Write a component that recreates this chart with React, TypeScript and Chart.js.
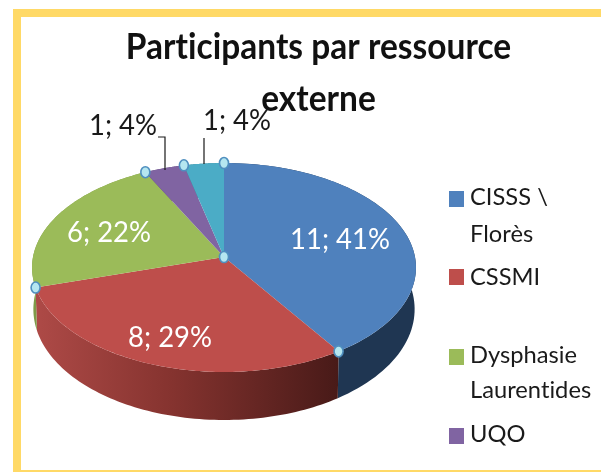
import React, { useEffect, useRef } from "react";
import { Chart, registerables } from "chart.js";

Chart.register(...registerables);

const categories = ["CISSS \\ Florès", "CSSMI", "Dysphasie Laurentides", "UQO", "Autre"];
const values = [11, 8, 6, 1, 1];
const percents = ["41%", "29%", "22%", "4%", "4%"];
const topColors = ["#4F81BD", "#BE4E4B", "#9BBB59", "#8064A2", "#4BACC6"];
const titleLines = ["Participants par ressource", "externe"];
const legendLines = [["CISSS \\", "Florès"], ["CSSMI"], ["Dysphasie", "Laurentides"], ["UQO"]];

// Perspective of the pie: unit circle -> projected ellipse
const APEX_X = 224;
const APEX_Y = 257;
const HALF_W = 191;
const V_SCALE = 77.6;
const PERSPECTIVE = -0.1005;
const sideDepth = (v: number) => 41 + 7 * v;

const project = (a: number) => {
  const u = Math.cos(a);
  const v = Math.sin(a);
  const d = 1 + PERSPECTIVE * v;
  return { x: APEX_X + (HALF_W * u) / d, y: (V_SCALE * v + APEX_Y) / d, v };
};
const projectBottom = (a: number) => {
  const p = project(a);
  return { x: APEX_X + (p.x - APEX_X) * 0.993, y: p.y + sideDepth(p.v) };
};

const FONT = "Lato, 'Open Sans', sans-serif";

function text(ctx: CanvasRenderingContext2D, s: string, x: number, y: number, size: number, sx: number, color: string, align: CanvasTextAlign = "center") {
  ctx.save();
  ctx.translate(x, y);
  ctx.scale(sx, 1);
  ctx.font = `${size}px ${FONT}`;
  (ctx as any).letterSpacing = "0.01px";
  ctx.fillStyle = color;
  ctx.textAlign = align;
  ctx.textBaseline = "alphabetic";
  ctx.fillText(s, 0, 0);
  ctx.restore();
}

function handle(ctx: CanvasRenderingContext2D, x: number, y: number) {
  ctx.beginPath();
  ctx.ellipse(x, y, 4.5, 5.5, 0, 0, Math.PI * 2);
  ctx.fillStyle = "#B5E6F0";
  ctx.fill();
  ctx.lineWidth = 1.6;
  ctx.strokeStyle = "#4F8FBF";
  ctx.stroke();
}

const pie3d = {
  id: "pie3d",
  beforeDraw(chart: any) {
    const ctx: CanvasRenderingContext2D = chart.ctx;
    ctx.fillStyle = "#FFFFFF";
    ctx.fillRect(0, 0, chart.width, chart.height);
    ctx.fillStyle = "#FFD966";
    ctx.fillRect(13, 9, chart.width - 13, 8);
    ctx.fillRect(13, 9, 8, chart.height - 9);
    ctx.fillRect(13, 470, chart.width - 13, 2);
    ctx.save();
    (ctx as any).letterSpacing = "0.01px";
    ctx.translate(318.5, 0);
    ctx.scale(0.93, 1);
    ctx.translate(-318.5, 0);
  },
  beforeDatasetsDraw(chart: any) {
    const ctx: CanvasRenderingContext2D = chart.ctx;
    ctx.restore();
    const arcs = chart.getDatasetMeta(0).data;

    // side wall
    const wallFill = (i: number) => {
      if (i === 0) return "#1F3652";
      if (i === 1) {
        const g = ctx.createLinearGradient(35, 0, 339, 0);
        g.addColorStop(0, "#AE4A47");
        g.addColorStop(0.45, "#85332F");
        g.addColorStop(1, "#481A18");
        return g;
      }
      if (i === 2) return "#7E9A48";
      if (i === 3) return "#5F4A7A";
      return "#35808F";
    };
    arcs.forEach((arc: any, i: number) => {
      const steps = 80;
      ctx.beginPath();
      for (let k = 0; k <= steps; k++) {
        const a = arc.startAngle + ((arc.endAngle - arc.startAngle) * k) / steps;
        const p = project(a);
        if (k === 0) ctx.moveTo(p.x, p.y);
        else ctx.lineTo(p.x, p.y);
      }
      for (let k = steps; k >= 0; k--) {
        const a = arc.startAngle + ((arc.endAngle - arc.startAngle) * k) / steps;
        const p = projectBottom(a);
        ctx.lineTo(p.x, p.y);
      }
      ctx.closePath();
      ctx.fillStyle = wallFill(i);
      ctx.fill();
    });

    // top surface
    arcs.forEach((arc: any, i: number) => {
      const steps = 120;
      ctx.beginPath();
      ctx.moveTo(APEX_X, APEX_Y);
      for (let k = 0; k <= steps; k++) {
        const a = arc.startAngle + ((arc.endAngle - arc.startAngle) * k) / steps;
        const p = project(a);
        ctx.lineTo(p.x, p.y);
      }
      ctx.closePath();
      ctx.fillStyle = topColors[i];
      ctx.fill();
    });

    // leader lines
    ctx.strokeStyle = "#1A1A1A";
    ctx.lineWidth = 1.2;
    ctx.beginPath();
    ctx.moveTo(158, 137);
    ctx.lineTo(165, 137);
    ctx.lineTo(165, 170);
    ctx.moveTo(204, 138);
    ctx.lineTo(204, 164);
    ctx.stroke();

    // selection handles
    arcs.forEach((arc: any) => {
      const p = project(arc.startAngle);
      handle(ctx, p.x, p.y);
    });
    handle(ctx, APEX_X, APEX_Y);

    // data labels
    const dl = (i: number) => `${values[i]}; ${percents[i]}`;
    text(ctx, dl(0), 340, 249, 28, 0.98, "#FFFFFF");
    text(ctx, dl(1), 170, 347, 28, 0.98, "#FFFFFF");
    text(ctx, dl(2), 109, 242, 28, 0.98, "#FFFFFF");
    text(ctx, dl(3), 123, 135, 28, 0.98, "#1A1A1A");
    text(ctx, dl(4), 237, 130, 28, 0.98, "#1A1A1A");

    // legend
    const swatchY = [191, 269, 349, 428];
    const baselines = [[205, 242], [285], [363, 398], [442]];
    legendLines.forEach((lines, i) => {
      ctx.fillStyle = topColors[i];
      ctx.fillRect(449, swatchY[i], 15, 16);
      lines.forEach((l, j) => text(ctx, l, 470, baselines[i][j], 23, 1.03, "#1A1A1A", "left"));
    });
    return false;
  },
};

export default function App() {
  const ref = useRef<HTMLCanvasElement>(null);
  useEffect(() => {
    if (!ref.current) return;
    const chart = new Chart(ref.current, {
      type: "pie",
      data: {
        labels: categories,
        datasets: [{ data: values, backgroundColor: topColors, borderWidth: 0 }],
      },
      options: {
        responsive: false,
        animation: false,
        layout: { padding: { left: 36, top: 21 } },
        events: [],
        plugins: {
          legend: { display: false },
          tooltip: { enabled: false },
          title: {
            display: true,
            text: titleLines,
            color: "#111111",
            font: { family: FONT, size: 36, weight: "bold", lineHeight: 52 / 36 },
            padding: 0,
          },
        },
      },
      plugins: [pie3d],
    } as any);
    return () => chart.destroy();
  }, []);
  return (
    <canvas
      ref={ref}
      width={601}
      height={472}
      style={{ position: "absolute", left: 0, top: 0, display: "block", filter: "blur(0.5px)" }}
    />
  );
}
